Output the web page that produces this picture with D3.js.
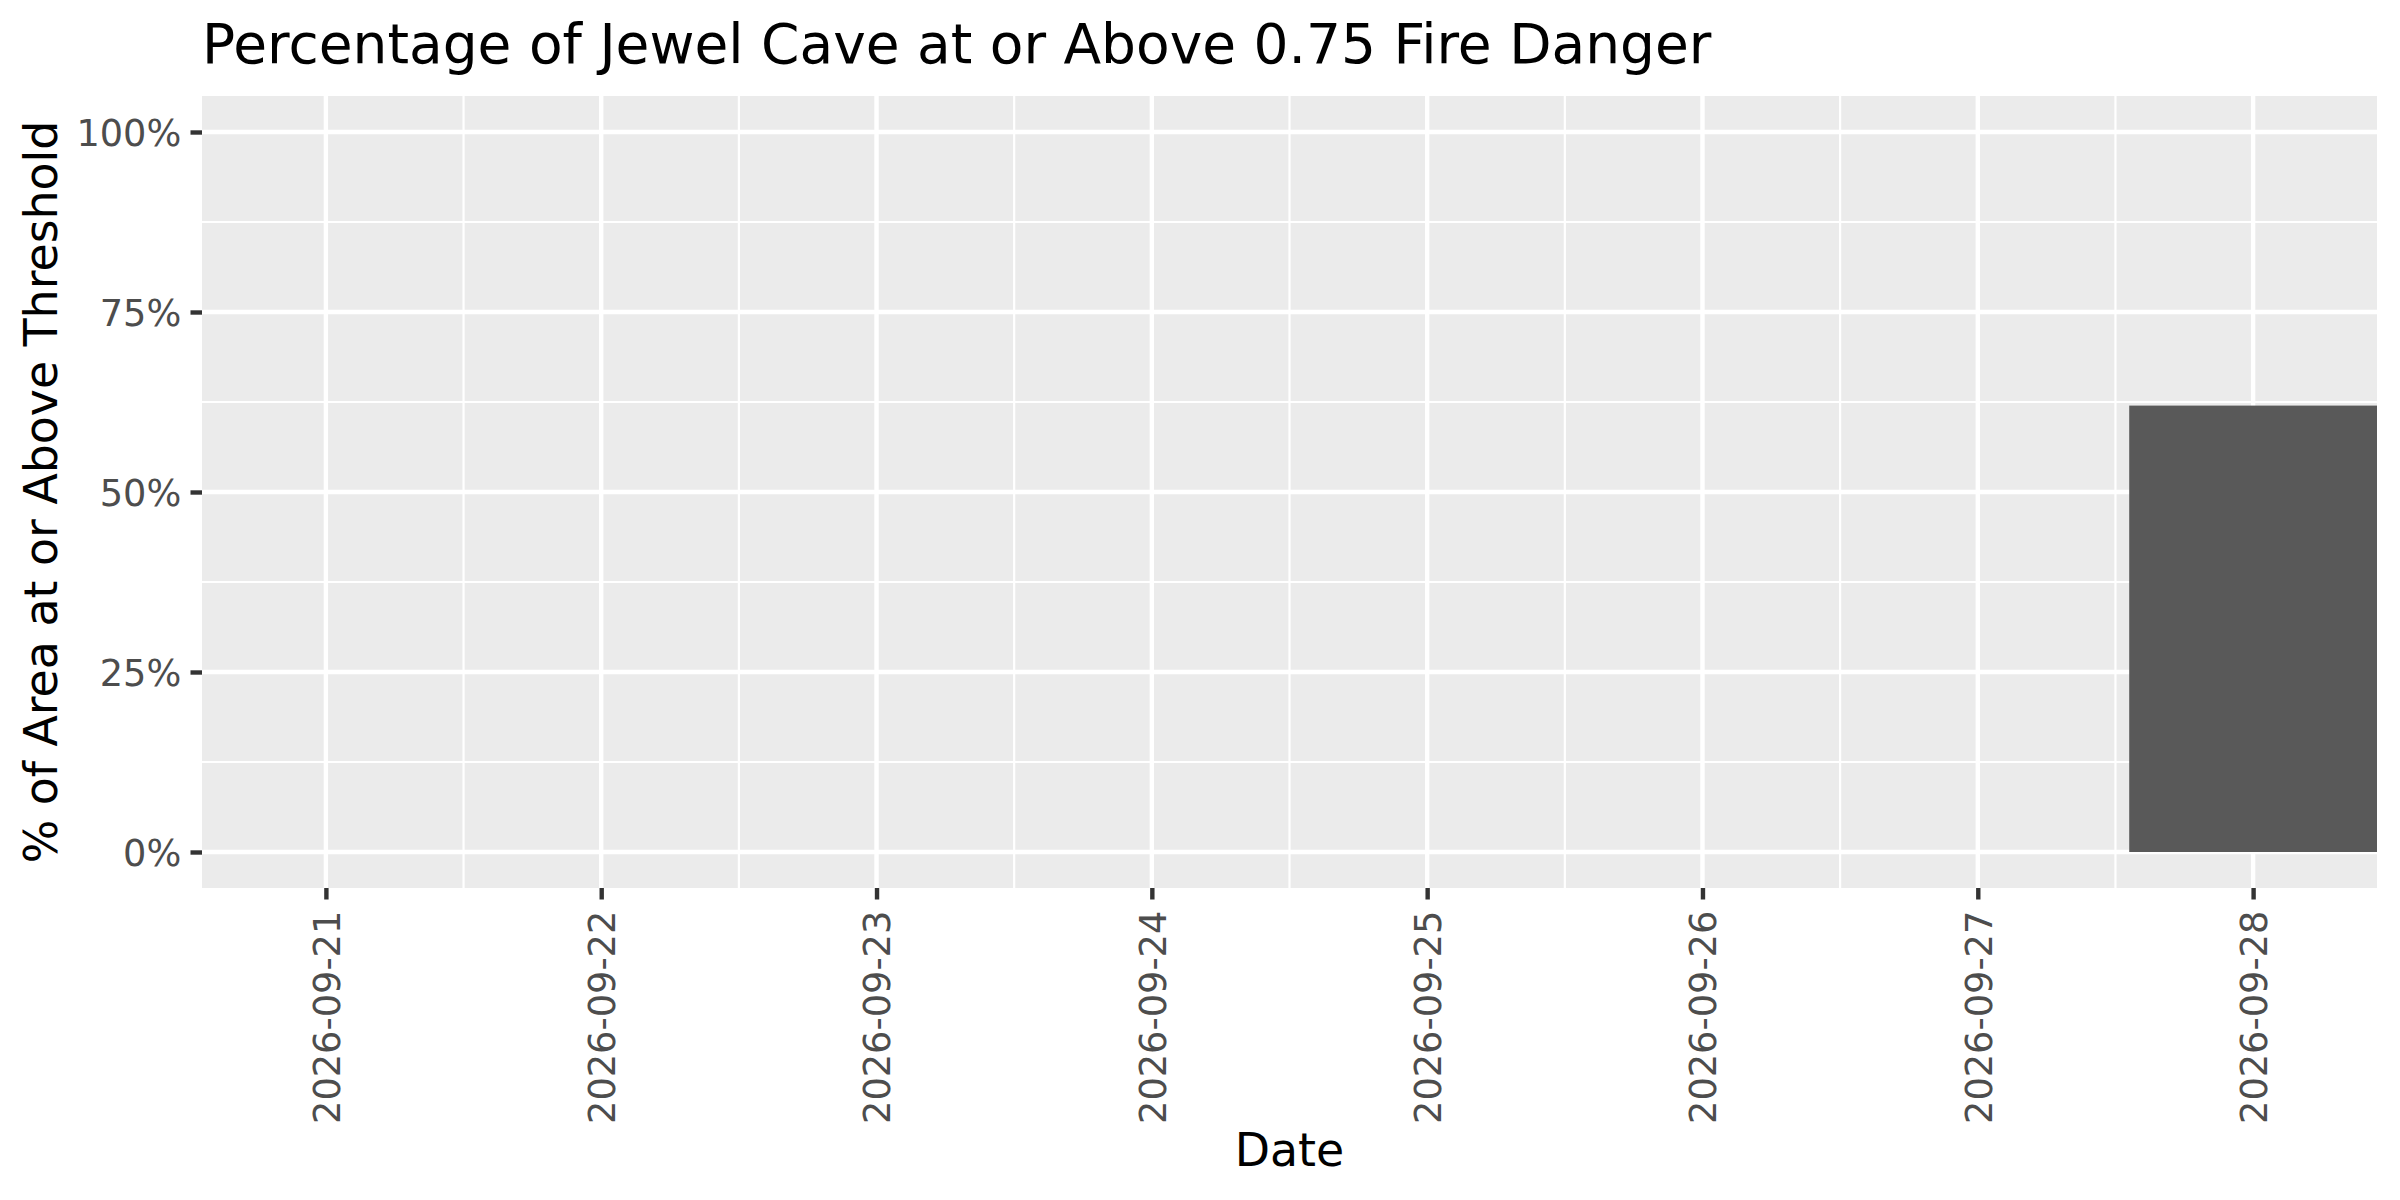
<!DOCTYPE html>
<html>
<head>
<meta charset="utf-8">
<script src="https://cdn.jsdelivr.net/npm/d3@7"></script>
<style>
  html, body { margin: 0; padding: 0; background: #ffffff; }
  svg { display: block; }
  text { font-family: "DejaVu Sans", sans-serif; }
</style>
</head>
<body>
<svg id="chart" width="2400" height="1200"></svg>
<script>
// ---- data ----
const dates = ["2026-09-21","2026-09-22","2026-09-23","2026-09-24","2026-09-25","2026-09-26","2026-09-27","2026-09-28"];
const pctAbove = [0, 0, 0, 0, 0, 0, 0, 0.62];
const yTicks = [0, 0.25, 0.5, 0.75, 1.0];
const yMinor = [0.125, 0.375, 0.625, 0.875];
const titleText = "Percentage of Jewel Cave at or Above 0.75 Fire Danger";
const xTitle = "Date";
const yTitle = "% of Area at or Above Threshold";

// ---- layout ----
const W = 2400, H = 1200;
const panel = { left: 202, right: 2377, top: 96, bottom: 888 };
const DAY = 86400000;
const parse = d3.utcParse("%Y-%m-%d");
const fmt = d3.utcFormat("%Y-%m-%d");
const dateObjs = dates.map(parse);
const data = dateObjs.map((d, i) => ({ date: d, value: pctAbove[i] }));

const x = d3.scaleUtc()
  .domain([new Date(+dateObjs[0] - 0.45 * DAY), new Date(+dateObjs[dateObjs.length - 1] + 0.45 * DAY)])
  .range([panel.left, panel.right]);
const y = d3.scaleLinear().domain([-0.05, 1.05]).range([panel.bottom, panel.top]);

const xMinor = dateObjs.slice(0, -1).map(d => new Date(+d + 0.5 * DAY));

const svg = d3.select("#chart");
svg.append("rect").attr("width", W).attr("height", H).attr("fill", "#ffffff");

// panel background
svg.append("rect")
  .attr("x", panel.left).attr("y", panel.top)
  .attr("width", panel.right - panel.left).attr("height", panel.bottom - panel.top)
  .attr("fill", "#EBEBEB");

const grid = svg.append("g");
// minor grid
grid.selectAll(".ymin").data(yMinor).join("line")
  .attr("x1", panel.left).attr("x2", panel.right)
  .attr("y1", d => y(d)).attr("y2", d => y(d))
  .attr("stroke", "#ffffff").attr("stroke-width", 2.2);
grid.selectAll(".xmin").data(xMinor).join("line")
  .attr("y1", panel.top).attr("y2", panel.bottom)
  .attr("x1", d => x(d)).attr("x2", d => x(d))
  .attr("stroke", "#ffffff").attr("stroke-width", 2.2);
// major grid
grid.selectAll(".ymaj").data(yTicks).join("line")
  .attr("x1", panel.left).attr("x2", panel.right)
  .attr("y1", d => y(d)).attr("y2", d => y(d))
  .attr("stroke", "#ffffff").attr("stroke-width", 4.4);
grid.selectAll(".xmaj").data(dateObjs).join("line")
  .attr("y1", panel.top).attr("y2", panel.bottom)
  .attr("x1", d => x(d)).attr("x2", d => x(d))
  .attr("stroke", "#ffffff").attr("stroke-width", 4.4);

// bars
const clip = svg.append("clipPath").attr("id", "pclip").append("rect")
  .attr("x", panel.left).attr("y", panel.top)
  .attr("width", panel.right - panel.left).attr("height", panel.bottom - panel.top);
svg.append("g").attr("clip-path", "url(#pclip)")
  .selectAll("rect").data(data).join("rect")
  .attr("x", d => x(new Date(+d.date - 0.45 * DAY)))
  .attr("width", d => x(new Date(+d.date + 0.45 * DAY)) - x(new Date(+d.date - 0.45 * DAY)))
  .attr("y", d => y(Math.max(0, d.value)))
  .attr("height", d => Math.abs(y(0) - y(d.value)))
  .attr("fill", "#595959");

// y axis
const yAxis = d3.axisLeft(y).tickValues(yTicks).tickSize(11.5).tickPadding(9.2)
  .tickFormat(d3.format(".0%"));
const gy = svg.append("g").attr("transform", `translate(${panel.left},0)`).call(yAxis);
gy.select(".domain").remove();
gy.selectAll(".tick line").attr("stroke", "#333333").attr("stroke-width", 4.4);
gy.selectAll(".tick text")
  .attr("fill", "#4D4D4D").attr("font-size", 36.7)
  .attr("font-family", "DejaVu Sans").attr("dy", "0.36em");

// x axis
const xAxis = d3.axisBottom(x).tickValues(dateObjs).tickSize(11.5).tickPadding(9.2)
  .tickFormat(fmt);
const gx = svg.append("g").attr("transform", `translate(0,${panel.bottom})`).call(xAxis);
gx.select(".domain").remove();
gx.selectAll(".tick line").attr("stroke", "#333333").attr("stroke-width", 4.4);
gx.selectAll(".tick text")
  .attr("fill", "#4D4D4D").attr("font-size", 36.7)
  .attr("font-family", "DejaVu Sans")
  .attr("text-anchor", "end")
  .attr("transform", "rotate(-90)")
  .attr("x", -(11.5 + 9.2 + 2)).attr("y", 0).attr("dy", "0.36em");

// titles
svg.append("text").attr("x", panel.left).attr("y", 63)
  .attr("font-size", 55).attr("fill", "#000000").text(titleText);
svg.append("text").attr("x", (panel.left + panel.right) / 2).attr("y", 1166)
  .attr("text-anchor", "middle").attr("font-size", 45.8).attr("fill", "#000000").text(xTitle);
svg.append("text")
  .attr("transform", `translate(57,${(panel.top + panel.bottom) / 2}) rotate(-90)`)
  .attr("text-anchor", "middle").attr("font-size", 45.8).attr("fill", "#000000").text(yTitle);
</script>
</body>
</html>
